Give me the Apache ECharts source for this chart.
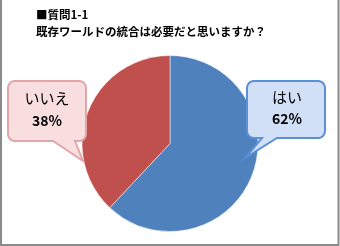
<!DOCTYPE html>
<html><head><meta charset="utf-8">
<script src="https://cdn.jsdelivr.net/npm/echarts@6/dist/echarts.min.js"></script>
<style>html,body{margin:0;padding:0;background:#fff}#c{width:340px;height:246px}</style>
</head><body><div id="c"></div>
<script>
const titleLines = ['■質問1-1', '既存ワールドの統合は必要だと思いますか？'];
const categories = ['はい', 'いいえ'];
const values = [62, 38];
const colors = ['#4F81BD', '#C0504D'];

const chart = echarts.init(document.getElementById('c'), null, {renderer: 'canvas'});
const font = '"Noto Sans CJK JP", sans-serif';

// rounded box with tail on the bottom edge
function callout(x0, y0, x1, y1, r, tailA, tailB, tip) {
  const pts = [];
  function arc(cx, cy, a0, a1) {
    for (let k = 0; k <= 6; k++) {
      const a = (a0 + (a1 - a0) * k / 6) * Math.PI / 180;
      pts.push([cx + r * Math.cos(a), cy + r * Math.sin(a)]);
    }
  }
  arc(x0 + r, y0 + r, 180, 270);
  arc(x1 - r, y0 + r, 270, 360);
  arc(x1 - r, y1 - r, 0, 90);
  pts.push([tailB, y1]); pts.push(tip); pts.push([tailA, y1]);
  arc(x0 + r, y1 - r, 90, 180);
  return pts;
}

chart.setOption({
  animation: false,
  title: {
    text: titleLines.join('\n'), left: 36, top: 6, padding: 0,
    textStyle: {fontSize: 11.5, fontWeight: 'bold', color: '#000', lineHeight: 17, fontFamily: font}
  },
  series: [{
    type: 'pie', center: [170, 143.5], radius: 88, startAngle: 90, clockwise: true,
    label: {show: false}, labelLine: {show: false},
    itemStyle: {borderColor: '#fff', borderWidth: 0.5},
    data: categories.map((c, i) => ({name: c, value: values[i], itemStyle: {color: colors[i]}}))
  }],
  graphic: [
    {type: 'polyline', shape: {points: [[1, 0], [1, 245], [338.5, 245], [338.5, 0]]},
     style: {stroke: '#8a8a8a', lineWidth: 2, fill: null}, z: 10},
    {type: 'polygon', z: 20, shape: {points: callout(8, 81, 86, 141, 7, 53, 75, [83, 161])},
     style: {fill: '#F8DEDF', stroke: '#E3A5A7', lineWidth: 2}},
    {type: 'polygon', z: 20, shape: {points: callout(247, 81, 325, 138, 7, 262, 277, [245, 158])},
     style: {fill: '#D2E0F7', stroke: '#5B8FD8', lineWidth: 2}},
    {type: 'text', z: 30, x: 47, y: 98, style: {text: categories[1], fontSize: 15, fontFamily: font, fill: '#000', align: 'center', verticalAlign: 'middle'}},
    {type: 'text', z: 30, x: 47, y: 121, style: {text: values[1] + '%', fontSize: 14, fontWeight: 'bold', fontFamily: font, fill: '#000', align: 'center', verticalAlign: 'middle'}},
    {type: 'text', z: 30, x: 287, y: 97, style: {text: categories[0], fontSize: 15, fontFamily: font, fill: '#000', align: 'center', verticalAlign: 'middle'}},
    {type: 'text', z: 30, x: 287, y: 119, style: {text: values[0] + '%', fontSize: 14, fontWeight: 'bold', fontFamily: font, fill: '#000', align: 'center', verticalAlign: 'middle'}}
  ]
});
</script></body></html>
